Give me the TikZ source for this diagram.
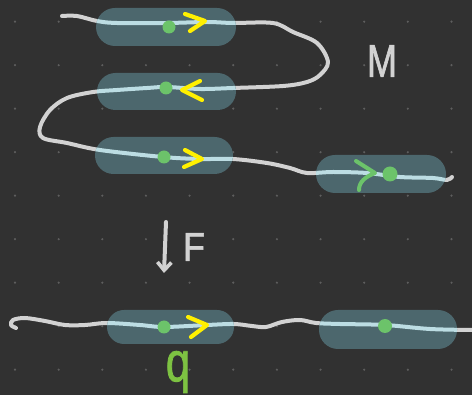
\documentclass[tikz,border=0pt]{standalone}
\usepackage{fontspec}
\setmainfont{Liberation Sans}
\newfontfamily\handfont[FakeBold=1.6]{Liberation Sans}
\usetikzlibrary{arrows.meta}

\definecolor{board}{HTML}{313131}
\definecolor{griddot}{HTML}{5E5E5E}
\definecolor{pillfill}{HTML}{4C676D}
\definecolor{chalk}{HTML}{D2D2D2}
\definecolor{wireblue}{HTML}{BCDDE3}
\definecolor{chalkgreen}{HTML}{6CC36A}
\definecolor{qgreen}{HTML}{7DC242}
\definecolor{marker}{HTML}{FFF000}

\tikzset{
  wire/.style={draw=chalk, line width=4pt, line cap=round, line join=round},
  wirein/.style={draw=wireblue, line width=4pt, line cap=round, line join=round},
  pill/.style={fill=pillfill},
  site/.style={fill=chalkgreen},
  chevron/.style={draw=marker, line width=4.2pt, line cap=round, line join=round},
  gchevron/.style={draw=chalkgreen, line width=4pt, line cap=round, line join=round},
  handtext/.style={inner sep=0pt, text=chalk},
}

% the folded chain and the straight chain
\newcommand{\foldedwire}[1]{%
  \draw[#1] plot[smooth, tension=0.55] coordinates {
    (62,16) (77,16) (97,21) (117,23) (167,23) (207,22) (233,23) (273,23)
    (293,32) (317,43) (328,62) (320,75) (307,82) (283,86) (233,88)
    (200,89) (167,87) (147,88) (117,90) (93,92) (67,98) (50,110) (40,127)
    (43,138) (67,143) (100,150) (163,157) (200,159) (233,159) (267,163)
    (290,168) (307,173) (333,172) (367,173) (400,177) (433,178) (447,180)
    (452,177)};}
\newcommand{\straightwire}[1]{%
  \draw[#1] plot[smooth, tension=0.55] coordinates {
    (16,328) (11,325) (13,320) (25,318) (45,321) (65,325) (85,325)
    (107,323) (140,325) (164,327) (207,325) (234,324) (252,326) (266,327)
    (282,322) (300,320) (316,323) (340,324) (385,325) (430,329) (472,330)};}
% outlines of the six blocks
\newcommand{\blockshapes}{%
  [rounded corners=19pt] (96,8) rectangle (236,46)
  [rounded corners=18.5pt] (97,73) rectangle (236,110)
  [rounded corners=18.5pt] (95,137) rectangle (233,174)
  [rounded corners=19pt] (316,155) rectangle (446,193)
  [rounded corners=17pt] (107,310) rectangle (234,344)
  [rounded corners=19pt] (319,310) rectangle (457,349)}

\begin{document}
\begin{tikzpicture}[x=1pt, y=-1pt]
  % board and dot grid
  \fill[board] (0,0) rectangle (472,395);
  \useasboundingbox (0,0) rectangle (472,395);
  \foreach \i in {0,...,10} {
    \foreach \j in {0,...,8} {
      \fill[griddot] ({15+43.65*\i},{21.7+43.5*\j}) circle (1.2pt);
    }
  }

  % chains outside the blocks
  \foldedwire{wire}
  \straightwire{wire}

  % blocks
  \fill[pill] \blockshapes;

  % chains seen through the blocks
  \begin{scope}
    \clip \blockshapes;
    \foldedwire{wirein}
    \straightwire{wirein}
  \end{scope}

  % sites
  \fill[site] (169,27) circle (6.5pt);
  \fill[site] (166,88) circle (6.5pt);
  \fill[site] (164,157) circle (6.5pt);
  \fill[site] (390,174) circle (7.5pt);
  \fill[site] (164,327) circle (6.5pt);
  \fill[site] (385,326) circle (7pt);

  % direction marks
  \draw[chevron] (185,14) -- (205,21) -- (190,31);
  \draw[chevron] (200,81) -- (182,90) -- (202,100);
  \draw[chevron] (185,150) -- (202,159) -- (184,167);
  \draw[chevron] (188,317) -- (207,325) -- (191,337);
  \draw[gchevron] (356,161) -- (375,173) .. controls (365,177) and (359,182) .. (359,190);

  % labels
  \node[handtext, font=\handfont\fontsize{46}{46}\selectfont, xscale=0.78] (mlabel) at (382,61) {M};
  \node[handtext, font=\handfont\fontsize{40}{40}\selectfont, xscale=0.9] (flabel) at (194,247) {F};
  \node[handtext, text=qgreen, font=\handfont\fontsize{56}{56}\selectfont, xscale=0.78] (qlabel) at (178,372) {q};

  % applied force
  \coordinate (ftop) at (166,222);
  \coordinate (fbot) at (164,273);
  \draw[wire, -{Straight Barb[length=8pt,width=14pt,line width=3.6pt]}] (ftop) -- (fbot);
\end{tikzpicture}
\end{document}
